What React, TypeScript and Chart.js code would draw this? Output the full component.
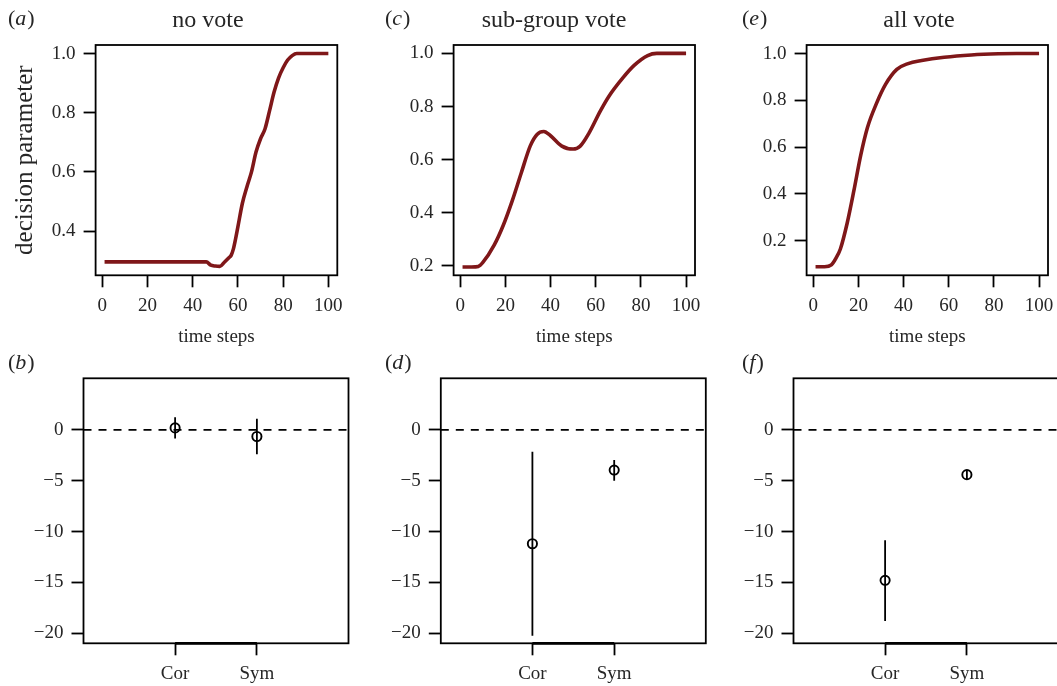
import React, { useEffect, useRef } from "react";
import { Chart, registerables } from "chart.js";

Chart.register(...registerables);

const W = 1070;
const H = 686;
const SERIF = '"Liberation Serif", "Times New Roman", serif';
const CURVE = "#7f1719";
const TEXT = "#262626";

// ---- top row: decision parameter over time ----
const timeA = [1, 10, 20, 30, 40, 46, 48, 50, 52, 54, 56, 57, 58, 59, 60, 62, 64, 66, 68, 70, 72, 74, 76, 78, 80, 82, 84, 86, 90, 100];
const valA = [0.296, 0.296, 0.296, 0.296, 0.296, 0.296, 0.285, 0.282, 0.281, 0.295, 0.31, 0.318, 0.34, 0.375, 0.415, 0.495, 0.55, 0.6, 0.667, 0.712, 0.746, 0.807, 0.87, 0.918, 0.952, 0.978, 0.993, 1.0, 1.0, 1.0];

const timeC = [1, 5, 8, 10, 15, 19, 23, 27, 31, 34, 37, 40, 45, 50, 53, 57, 62, 66, 72, 77, 83, 87, 100];
const valC = [0.196, 0.196, 0.198, 0.213, 0.278, 0.352, 0.445, 0.55, 0.652, 0.695, 0.706, 0.69, 0.651, 0.64, 0.65, 0.7, 0.783, 0.841, 0.908, 0.955, 0.992, 1.0, 1.0];

const timeE = [1, 5, 8, 10, 12, 15, 18, 21, 24, 28, 32, 37, 42, 48, 58, 70, 82, 90, 100];
const valE = [0.089, 0.089, 0.097, 0.125, 0.165, 0.275, 0.415, 0.565, 0.684, 0.787, 0.868, 0.932, 0.957, 0.97, 0.984, 0.994, 0.999, 1.0, 1.0];

const timeTicks = [0, 20, 40, 60, 80, 100];
const yTicksA = [0.4, 0.6, 0.8, 1.0];
const yTicksCE = [0.2, 0.4, 0.6, 0.8, 1.0];

// ---- bottom row: estimates with intervals ----
const groups = ["Cor", "Sym"];
const meanB = [0.2, -0.65];
const lowB = [-0.85, -2.4];
const highB = [1.25, 1.1];

const meanD = [-11.2, -3.95];
const lowD = [-20.25, -5.0];
const highD = [-2.15, -2.95];

const meanF = [-14.8, -4.4];
const lowF = [-18.8, -4.85];
const highF = [-10.85, -3.95];

const effectTicks = [0, -5, -10, -15, -20];

type Box = { l: number; t: number; r: number; b: number };

interface Panel {
  box: Box;
  xMin: number;
  xMax: number;
  yMin: number;
  yMax: number;
  xTicks: number[];
  yTicks: number[];
  xFmt: (v: number) => string;
  yFmt: (v: number) => string;
  datasets: any[];
  letter: string;
  letterX: number;
  letterY: number;
  title?: string;
  titleX?: number;
  xlabel?: string;
  ylabel?: string;
  thickBottom?: boolean;
}

const topXFmt = (v: number) => String(v);
const topYFmt = (v: number) => v.toFixed(1);
const groupFmt = (v: number) => groups[Math.round(v) - 1] ?? "";
const effectFmt = (v: number) => (v === 0 ? "0" : "\u2212" + Math.abs(v));

function curveDataset(t: number[], v: number[]) {
  return {
    data: t.map((x, i) => ({ x, y: v[i] })),
    borderColor: CURVE,
    borderWidth: 3.6,
    pointRadius: 0,
    cubicInterpolationMode: "monotone",
    fill: false,
  };
}

function effectDatasets(mean: number[], low: number[], high: number[], xMin: number, xMax: number) {
  const ds: any[] = [];
  ds.push({
    data: [
      { x: xMin, y: 0 },
      { x: xMax, y: 0 },
    ],
    borderColor: "#000",
    borderWidth: 1.8,
    borderDash: [8, 7],
    pointRadius: 0,
    fill: false,
  });
  groups.forEach((_, i) => {
    ds.push({
      data: [
        { x: i + 1, y: low[i] },
        { x: i + 1, y: high[i] },
      ],
      borderColor: "#000",
      borderWidth: 1.8,
      pointRadius: 0,
      fill: false,
    });
  });
  ds.push({
    data: groups.map((_, i) => ({ x: i + 1, y: mean[i] })),
    showLine: false,
    pointRadius: 4.6,
    pointBorderWidth: 1.9,
    pointBorderColor: "#000",
    pointBackgroundColor: "rgba(0,0,0,0)",
    borderColor: "#000",
  });
  return ds;
}

const TOP_X: [number, number] = [-2.96, 103.96];
const BOT_X: [number, number] = [-0.12, 3.12];
const BOT_Y: [number, number] = [-21, 5.08];

const PANELS: Panel[] = [
  {
    box: { l: 95.6, t: 45, r: 337.3, b: 275.3 },
    xMin: TOP_X[0], xMax: TOP_X[1], yMin: 0.2507, yMax: 1.0288,
    xTicks: timeTicks, yTicks: yTicksA, xFmt: topXFmt, yFmt: topYFmt,
    datasets: [curveDataset(timeA, valA)],
    letter: "a", letterX: 8, letterY: 25,
    title: "no vote", titleX: 208, xlabel: "time steps", ylabel: "decision parameter",
  },
  {
    box: { l: 453.6, t: 45, r: 695, b: 275.3 },
    xMin: TOP_X[0], xMax: TOP_X[1], yMin: 0.1647, yMax: 1.0317,
    xTicks: timeTicks, yTicks: yTicksCE, xFmt: topXFmt, yFmt: topYFmt,
    datasets: [curveDataset(timeC, valC)],
    letter: "c", letterX: 385, letterY: 25,
    title: "sub-group vote", titleX: 554, xlabel: "time steps",
  },
  {
    box: { l: 806.6, t: 45, r: 1048, b: 275.3 },
    xMin: TOP_X[0], xMax: TOP_X[1], yMin: 0.0526, yMax: 1.0364,
    xTicks: timeTicks, yTicks: yTicksCE, xFmt: topXFmt, yFmt: topYFmt,
    datasets: [curveDataset(timeE, valE)],
    letter: "e", letterX: 742, letterY: 25,
    title: "all vote", titleX: 919, xlabel: "time steps",
  },
  {
    box: { l: 83.5, t: 378.3, r: 348.5, b: 643.3 },
    xMin: BOT_X[0], xMax: BOT_X[1], yMin: BOT_Y[0], yMax: BOT_Y[1],
    xTicks: [1, 2], yTicks: effectTicks, xFmt: groupFmt, yFmt: effectFmt,
    datasets: effectDatasets(meanB, lowB, highB, BOT_X[0], BOT_X[1]),
    letter: "b", letterX: 8, letterY: 369, thickBottom: true,
  },
  {
    box: { l: 440.8, t: 378.3, r: 705.8, b: 643.3 },
    xMin: BOT_X[0], xMax: BOT_X[1], yMin: BOT_Y[0], yMax: BOT_Y[1],
    xTicks: [1, 2], yTicks: effectTicks, xFmt: groupFmt, yFmt: effectFmt,
    datasets: effectDatasets(meanD, lowD, highD, BOT_X[0], BOT_X[1]),
    letter: "d", letterX: 385, letterY: 369, thickBottom: true,
  },
  {
    box: { l: 793.5, t: 378.3, r: 1058.5, b: 643.3 },
    xMin: BOT_X[0], xMax: BOT_X[1], yMin: BOT_Y[0], yMax: BOT_Y[1],
    xTicks: [1, 2], yTicks: effectTicks, xFmt: groupFmt, yFmt: effectFmt,
    datasets: effectDatasets(meanF, lowF, highF, BOT_X[0], BOT_X[1]),
    letter: "f", letterX: 742, letterY: 369, thickBottom: true,
  },
];

function makeChart(canvas: HTMLCanvasElement, p: Panel) {
  const tickFont = { family: SERIF, size: 19 };
  const gridCfg = {
    display: true,
    drawOnChartArea: false,
    drawTicks: true,
    tickLength: 12,
    tickWidth: 1.8,
    tickColor: "#000",
    color: "#000",
  };
  const framePlugin = {
    id: "frame" + p.letter,
    afterDatasetsDraw(chart: any) {
      const ctx = chart.ctx as CanvasRenderingContext2D;
      const a = chart.chartArea;
      ctx.save();
      ctx.strokeStyle = "#000";
      ctx.lineWidth = 1.8;
      ctx.strokeRect(a.left, a.top, a.right - a.left, a.bottom - a.top);
      if (p.thickBottom) {
        const xs = chart.scales.x;
        ctx.lineWidth = 2.8;
        ctx.beginPath();
        ctx.moveTo(xs.getPixelForValue(p.xTicks[0]), a.bottom);
        ctx.lineTo(xs.getPixelForValue(p.xTicks[p.xTicks.length - 1]), a.bottom);
        ctx.stroke();
      }
      ctx.restore();
    },
    afterDraw(chart: any) {
      const ctx = chart.ctx as CanvasRenderingContext2D;
      const a = chart.chartArea;
      ctx.save();
      ctx.fillStyle = TEXT;
      ctx.textBaseline = "alphabetic";
      // panel letter
      const ls = 22;
      ctx.textAlign = "left";
      let x = p.letterX;
      ctx.font = `${ls}px ${SERIF}`;
      ctx.fillText("(", x, p.letterY);
      x += ctx.measureText("(").width;
      ctx.font = `italic ${ls}px ${SERIF}`;
      ctx.fillText(p.letter, x, p.letterY);
      x += ctx.measureText(p.letter).width + 1;
      ctx.font = `${ls}px ${SERIF}`;
      ctx.fillText(")", x, p.letterY);
      // title
      if (p.title) {
        ctx.textAlign = "center";
        ctx.font = `24px ${SERIF}`;
        ctx.fillText(p.title, p.titleX as number, 27);
      }
      if (p.xlabel) {
        ctx.textAlign = "center";
        ctx.font = `19px ${SERIF}`;
        ctx.fillText(p.xlabel, (a.left + a.right) / 2, 342);
      }
      if (p.ylabel) {
        ctx.translate(32, (a.top + a.bottom) / 2);
        ctx.rotate(-Math.PI / 2);
        ctx.textAlign = "center";
        ctx.font = `25px ${SERIF}`;
        ctx.fillText(p.ylabel, 0, 0);
      }
      ctx.restore();
    },
  };

  return new Chart(canvas, {
    type: "line",
    data: { datasets: p.datasets },
    options: {
      animation: false,
      responsive: false,
      devicePixelRatio: 1,
      events: [],
      layout: { padding: { left: 0, top: p.box.t, right: W - p.box.r, bottom: 0 } },
      plugins: {
        legend: { display: false },
        tooltip: { enabled: false },
        title: { display: false },
      },
      scales: {
        x: {
          type: "linear",
          bounds: "data",
          min: p.xMin,
          max: p.xMax,
          afterBuildTicks: (s: any) => {
            s.ticks = p.xTicks.map((v) => ({ value: v }));
          },
          afterFit: (s: any) => {
            s.height = H - p.box.b;
          },
          ticks: {
            autoSkip: false,
            maxRotation: 0,
            minRotation: 0,
            padding: 7,
            color: TEXT,
            font: tickFont,
            callback: (v: any) => p.xFmt(Number(v)),
          },
          grid: gridCfg,
          border: { display: false },
        },
        y: {
          type: "linear",
          bounds: "data",
          min: p.yMin,
          max: p.yMax,
          afterBuildTicks: (s: any) => {
            s.ticks = p.yTicks.map((v) => ({ value: v }));
          },
          afterFit: (s: any) => {
            s.width = p.box.l;
          },
          ticks: {
            autoSkip: false,
            padding: 8,
            color: TEXT,
            font: tickFont,
            callback: (v: any) => p.yFmt(Number(v)),
          },
          grid: gridCfg,
          border: { display: false },
        },
      },
    } as any,
    plugins: [framePlugin],
  });
}

export default function App() {
  const refs = useRef<(HTMLCanvasElement | null)[]>([]);

  useEffect(() => {
    const charts: Chart[] = [];
    PANELS.forEach((p, i) => {
      const c = refs.current[i];
      if (c) charts.push(makeChart(c, p));
    });
    return () => {
      charts.forEach((c) => c.destroy());
    };
  }, []);

  return (
    <div
      style={{
        position: "fixed",
        left: 0,
        top: 0,
        width: 1057,
        height: 686,
        overflow: "hidden",
        background: "#fff",
      }}
    >
      {PANELS.map((p, i) => (
        <canvas
          key={p.letter}
          ref={(el) => {
            refs.current[i] = el;
          }}
          width={W}
          height={H}
          style={{ position: "absolute", left: 0, top: 0, width: W, height: H }}
        />
      ))}
    </div>
  );
}
